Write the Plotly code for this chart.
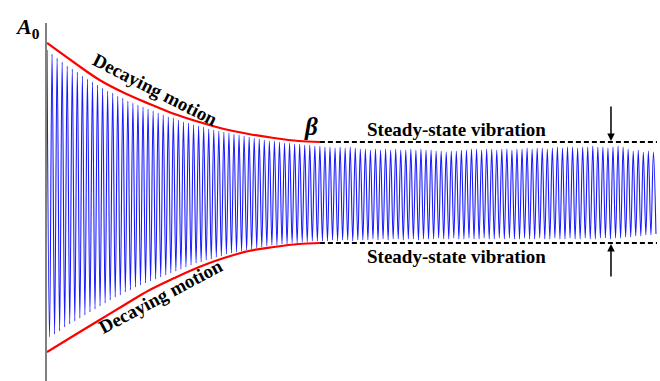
import plotly.graph_objects as go

# Peak displacement of each vibration cycle (upper crests), arbitrary units
crest = [
    143, 139, 135, 131, 127, 124, 121, 117, 114, 111,
    108, 105, 102, 100, 97, 95, 92, 90, 88, 86,
    84, 82, 80, 78, 76, 75, 73, 71, 70, 68,
    67, 66, 64, 63, 62, 61, 60, 59, 58, 57,
    56, 55, 54, 53, 52, 52, 51, 50, 50, 49,
    49, 48, 48, 47, 47,
    46, 46, 45, 46, 45, 46, 45, 44,
    44, 43, 44, 43, 44, 43, 44, 43, 43, 44, 43, 44, 43,
    43, 42, 42, 41, 42, 42, 43, 43,
    44, 44, 43, 44, 44, 43, 44, 44, 43, 44, 44, 45, 44, 45, 45, 44, 45,
    46, 45, 46, 46, 45, 46, 46, 47, 46, 46, 45, 46, 47, 46,
    44, 42, 43, 41, 42, 41,
]
# Trough depth of each cycle (lower side, magnitude)
trough = [
    144, 141, 138, 134, 131, 128, 125, 122, 119, 116,
    113, 110, 107, 104, 102, 99, 97, 94, 92, 90,
    88, 86, 84, 82, 80, 78, 76, 74, 72, 70,
    69, 67, 66, 64, 63, 61, 60, 59, 58, 57,
    56, 55, 54, 53, 52, 52, 51, 51, 50, 50,
    49, 49, 48, 48, 48,
    48, 47, 48, 47, 47, 48, 47, 47,
    47, 46, 47, 46, 47, 46, 46, 47, 46, 46, 47, 46, 46,
    46, 45, 46, 46, 45, 46, 46, 45,
    46, 46, 45, 46, 46, 45, 46, 45, 46, 46, 45, 46, 46, 45, 46, 46, 45,
    46, 46, 45, 46, 46, 45, 46, 46, 45, 45, 46, 45, 45, 44,
    44, 43, 43, 42, 42, 41,
]

# Decay envelope (red) sampled along time, in cycles
env_t = [0, 5.5, 10.4, 15.3, 20.3, 25.2, 30.1, 35.0, 39.9, 44.9, 49.8, 54.0]
env_upper = [150, 130, 113, 100, 89, 79, 71, 64, 59, 55, 52, 51]
env_lower = [-159, -142, -127, -112, -97, -85, -74, -65, -58, -54, -51, -50]

# Steady-state band (dashed)
steady_t = [54.0, 120.7]
steady_upper = 51
steady_lower = -50

# Amplitude indicator arrows (time position)
arrow_t = 111.6

t_end = 121.3

# Build the oscillation: crest at each whole cycle, trough half a cycle later
wave_t, wave_y = [], []
for k, (c, d) in enumerate(zip(crest, trough)):
    wave_t += [k, k + 0.5]
    wave_y += [c, -d]

serif = "Liberation Serif, Times New Roman, serif"

fig = go.Figure()
fig.add_trace(go.Scatter(x=wave_t, y=wave_y, mode="lines",
                         line=dict(color="#1a1aff", width=1.1, shape="spline"),
                         hoverinfo="skip"))
fig.add_trace(go.Scatter(x=env_t, y=env_upper, mode="lines",
                         line=dict(color="#ff0000", width=2.2, shape="spline")))
fig.add_trace(go.Scatter(x=env_t, y=env_lower, mode="lines",
                         line=dict(color="#ff0000", width=2.2, shape="spline")))
for lvl in (steady_upper, steady_lower):
    fig.add_trace(go.Scatter(x=steady_t, y=[lvl, lvl], mode="lines",
                             line=dict(color="black", width=1.8, dash="5px,3px")))

annos = [
    dict(x=52.3, y=67, text="<b><i>β</i></b>", size=25, angle=0),
    dict(x=81.0, y=64, text="<b>Steady-state vibration</b>", size=19, angle=0),
    dict(x=81.0, y=-63, text="<b>Steady-state vibration</b>", size=19, angle=0),
    dict(x=21.4, y=104, text="<b>Decaying motion</b>", size=19, angle=27),
    dict(x=22.4, y=-103, text="<b>Decaying motion</b>", size=19, angle=-28),
]
for a in annos:
    fig.add_annotation(x=a["x"], y=a["y"], text=a["text"], showarrow=False,
                       textangle=a["angle"],
                       font=dict(family=serif, size=a["size"], color="black"))

# Amplitude label at the top of the axis
fig.add_annotation(xref="paper", yref="paper", x=-0.031, y=0.985,
                   xanchor="center", yanchor="middle",
                   text="<b><i>A</i><sub>0</sub></b>", showarrow=False,
                   font=dict(family=serif, size=22, color="black"))

# Arrows marking the steady-state amplitude
fig.add_annotation(x=arrow_t, y=steady_upper + 1, ax=0, ay=-36, text="",
                   showarrow=True, arrowhead=2, arrowsize=1, arrowwidth=1.5,
                   arrowcolor="black")
fig.add_annotation(x=arrow_t, y=steady_lower - 1, ax=0, ay=34, text="",
                   showarrow=True, arrowhead=2, arrowsize=1, arrowwidth=1.5,
                   arrowcolor="black")

fig.update_layout(
    width=660, height=381,
    margin=dict(l=47, r=0, t=23, b=0),
    paper_bgcolor="white", plot_bgcolor="white",
    showlegend=False,
    xaxis=dict(range=[0, t_end], visible=False),
    yaxis=dict(range=[-188, 170], showgrid=False, zeroline=False,
               showticklabels=False, ticks="", showline=True,
               linecolor="#808080", linewidth=1.5),
)

fig.write_html("out.html")
